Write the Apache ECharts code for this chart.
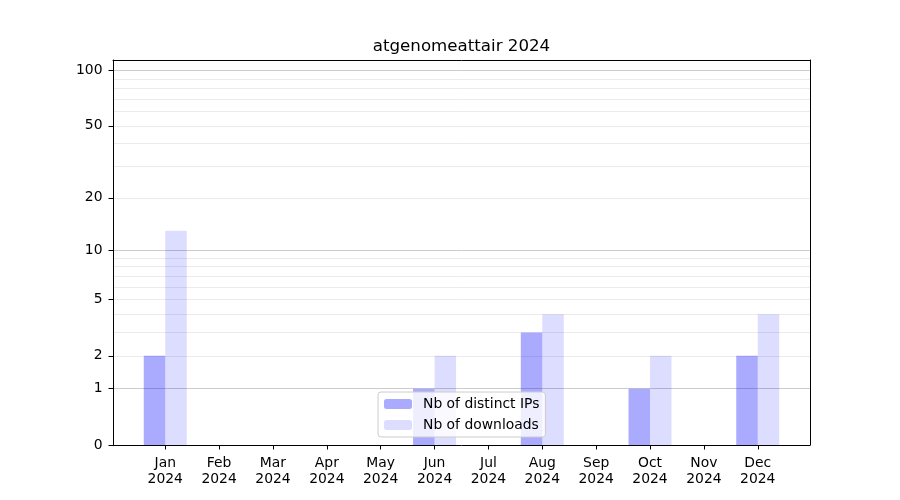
<!DOCTYPE html>
<html>
<head>
<meta charset="utf-8">
<script src="https://cdn.jsdelivr.net/npm/echarts@6/dist/echarts.min.js"></script>
<style>html,body{margin:0;padding:0;background:#fff}#c{width:900px;height:500px}</style>
</head>
<body>
<div id="c"></div>
<script>
const titleText = 'atgenomeattair 2024';
const months = ['Jan','Feb','Mar','Apr','May','Jun','Jul','Aug','Sep','Oct','Nov','Dec'];
const yearLabel = '2024';
const ipCounts = [2,0,0,0,0,1,0,3,0,1,0,2];
const downloadCounts = [13,0,0,0,0,2,0,4,0,2,0,4];
const seriesNames = ['Nb of distinct IPs','Nb of downloads'];
const yTickValues = [0,1,2,5,10,20,50,100];
const majorGridValues = [1,10,100];
const minorGridValues = [2,3,4,5,6,7,8,9,20,30,40,50,60,70,80,90];
const yMaxValue = 113.7;
const xMin = -0.97, xMax = 11.97;

const tf = v => Math.log10(v + 1);
const inv = t => Math.round(Math.pow(10, t) - 1);
const font = 'DejaVu Sans';
const monthIdx = months.map((m, i) => i);
const yMax = tf(yMaxValue);

function gridAxis(values, color) {
  return {
    type: 'value', position: 'left', min: 0, max: yMax,
    axisLine: {show: false}, axisLabel: {show: false},
    axisTick: {show: false, customValues: values.map(tf)},
    splitLine: {show: true, lineStyle: {color: color, width: 1, type: 'solid'}}
  };
}

const chart = echarts.init(document.getElementById('c'), null, {renderer: 'canvas'});
chart.setOption({
  animation: false,
  textStyle: {fontFamily: font},
  title: {
    text: titleText, left: 461.5, top: 38, textAlign: 'center', padding: 0,
    textStyle: {fontFamily: font, fontSize: 16.67, fontWeight: 'normal', color: '#000'}
  },
  grid: {left: 113, right: 90, top: 60, bottom: 55, containLabel: false},
  legend: {
    orient: 'vertical', left: 378, top: 392,
    data: seriesNames,
    itemWidth: 28, itemHeight: 10, itemGap: 7,
    padding: [5, 6, 5, 6],
    backgroundColor: 'rgba(255,255,255,0.8)',
    borderColor: '#cccccc', borderWidth: 1, borderRadius: 3,
    textStyle: {fontFamily: font, fontSize: 13.9, color: '#000', padding: [0,0,0,6], lineHeight: 14}
  },
  xAxis: [{
    type: 'value', min: xMin, max: xMax,
    axisLine: {show: true, onZero: false, lineStyle: {color: '#000', width: 1}},
    axisTick: {show: true, length: 4.5, customValues: monthIdx, lineStyle: {color: '#000'}},
    axisLabel: {
      show: true, customValues: monthIdx, margin: 10,
      fontFamily: font, fontSize: 13.9, color: '#000', lineHeight: 16,
      formatter: v => months[Math.round(v)] + '\n' + yearLabel
    },
    splitLine: {show: false}
  }, {
    type: 'value', position: 'top', min: xMin, max: xMax,
    axisLine: {show: true, onZero: false, lineStyle: {color: '#000', width: 1}},
    axisTick: {show: false}, axisLabel: {show: false}, splitLine: {show: false}
  }],
  yAxis: [{
    type: 'value', min: 0, max: yMax,
    axisLine: {show: true, onZero: false, lineStyle: {color: '#000', width: 1}},
    axisTick: {show: true, length: 4.5, customValues: yTickValues.map(tf), lineStyle: {color: '#000'}},
    axisLabel: {
      show: true, customValues: yTickValues.map(tf), margin: 10.5,
      fontFamily: font, fontSize: 13.9, color: '#000',
      formatter: v => String(inv(v))
    },
    splitLine: {show: false}
  }, {
    type: 'value', position: 'right', min: 0, max: yMax,
    axisLine: {show: true, onZero: false, lineStyle: {color: '#000', width: 1}},
    axisTick: {show: false}, axisLabel: {show: false}, splitLine: {show: false}
  },
  gridAxis(minorGridValues, '#ebebeb'),
  gridAxis(majorGridValues, '#cccccc')
  ],
  series: [{
    name: seriesNames[0], type: 'bar', z: 2,
    barWidth: 21.5, barGap: '0%',
    itemStyle: {color: 'rgba(0,0,255,0.333)'},
    data: ipCounts.map((v, i) => [i, tf(v)])
  }, {
    name: seriesNames[1], type: 'bar', z: 2,
    barWidth: 21.5, barGap: '0%',
    itemStyle: {color: 'rgba(0,0,255,0.133)'},
    data: downloadCounts.map((v, i) => [i, tf(v)])
  }]
});
</script>
</body>
</html>
